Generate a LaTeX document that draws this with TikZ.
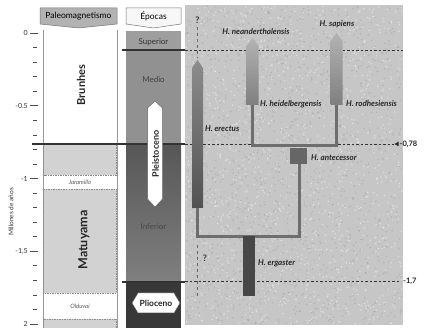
\documentclass[tikz,border=0pt]{standalone}
\usepackage{fontspec}
\setmainfont{Lato}
\usetikzlibrary{shapes.geometric,arrows.meta}
\definecolor{panel}{HTML}{C6C6C6}
\definecolor{magfill}{HTML}{D2D2D2}
\definecolor{conn}{HTML}{6E6E6E}
\tikzset{
  lbl/.style={font=\bfseries\itshape\fontsize{8}{9}\selectfont, text=black!85, inner sep=0pt},
  tick/.style={draw=black!70, line width=0.6pt},
  ticklbl/.style={font=\fontsize{7}{8}\selectfont, text=black!80, anchor=east, inner sep=0pt},
  boundary/.style={draw=black!80, line width=1.2pt},
  dashline/.style={draw=black!80, line width=0.8pt, dash pattern=on 2.5pt off 2pt},
  qline/.style={draw=black!60, line width=0.7pt, dash pattern=on 3pt off 3pt},
  connector/.style={draw=conn, line width=3pt},
  header/.style={font=\fontsize{8.5}{9}\selectfont, inner sep=0pt},
  epoca/.style={font=\fontsize{8}{9}\selectfont, inner sep=0pt},
  mag/.style={fill=magfill, draw=black!45, dash pattern=on 1.5pt off 1pt, line width=0.5pt},
}
\begin{document}
\begin{tikzpicture}[x=1pt,y=-1pt]
\useasboundingbox (0,0) rectangle (436,328);
\fill[white] (0,0) rectangle (436,328);

% right panel with speckle texture
\fill[panel] (185,5) rectangle (403,325);
\pgfmathsetseed{7}
\begin{scope}
\clip (185,5) rectangle (403,325);
\foreach \i in {1,...,1400}{
  \pgfmathsetmacro{\px}{186+rnd*216}
  \pgfmathsetmacro{\py}{6+rnd*318}
  \pgfmathsetmacro{\qx}{186+rnd*216}
  \pgfmathsetmacro{\qy}{6+rnd*318}
  \fill[black!40, opacity=0.45] (\px,\py) circle (0.8);
  \fill[white, opacity=0.45] (\qx,\qy) circle (0.8);
}
\end{scope}

% headers
\draw[draw=black!55, fill=black!30, line width=0.5pt]
  (40,8) -- (117,8) -- (117,24) -- (78.5,28) -- (40,24) -- cycle;
\node[header] (hpal) at (78.5,16.5) {Paleomagnetismo};
\draw[draw=black!55, fill=black!3, line width=0.5pt]
  (126,8) -- (181,8) -- (181,24) -- (153.5,28) -- (126,24) -- cycle;
\node[header] (hepo) at (153.5,16.5) {Épocas};

% paleomagnetism column
\draw[black!40, line width=0.6pt] (43,30) -- (43,328);
\draw[black!40, line width=0.6pt] (117,30) -- (117,328);
\path[mag] (43.5,144) rectangle (116.5,175);
\path[mag] (43.5,189) rectangle (116.5,293);
\path[mag] (43.5,319) rectangle (116.5,332);
\node[font=\bfseries\fontsize{11}{12}\selectfont, rotate=90, text=black!85] (brunhes) at (81,85) {Brunhes};
\node[font=\bfseries\fontsize{12.5}{13}\selectfont, rotate=90, text=black!85] (matuyama) at (84,240) {Matuyama};
\node[font=\itshape\fontsize{6}{7}\selectfont, text=black!65] (jaramillo) at (80,182) {Jaramillo};
\node[font=\itshape\fontsize{6}{7}\selectfont, text=black!65] (olduvai) at (80,306) {Olduvai};

% epocas column
\fill[black!38] (126,31) rectangle (181,50);
\fill[black!43] (126,50) rectangle (181,144);
\shade[top color=black!66, bottom color=black!50] (126,144) rectangle (181,282);
\fill[black!78] (126,282) rectangle (181,328);
\node[epoca, text=black!80] (sup) at (153.5,42) {Superior};
\node[epoca, text=black!75] (medio) at (153.5,80) {Medio};
\node[epoca, text=black!72] (inferior) at (153.5,227) {Inferior};

% boundary lines
\draw[boundary] (122,50) -- (185,50);
\draw[boundary] (32,144) -- (185,144);
\draw[boundary] (122,282) -- (185,282);

% epoch labels on top
\draw[fill=white, draw=black!60, line width=0.5pt]
  (155,101) -- (162.5,108) -- (162.5,199) -- (155,207) -- (147.5,199) -- (147.5,108) -- cycle;
\node[font=\bfseries\fontsize{9}{10}\selectfont, rotate=90, text=black!85] (pleis) at (155.5,154) {Pleistoceno};
\draw[fill=white, draw=black!60, line width=0.5pt]
  (132,303) -- (138,293) -- (174,293) -- (180,303) -- (174,313) -- (138,313) -- cycle;
\node[font=\bfseries\fontsize{8.5}{9}\selectfont, text=black!85] (plio) at (156,303) {Plioceno};

% axis
\foreach \k in {0,...,20}{
  \pgfmathsetmacro{\yy}{33+14.55*\k}
  \draw[tick] (33,\yy) -- (37,\yy);
}
\foreach \k/\t in {0/0, 5/{-0.5}, 10/{-1}, 15/{-1,5}, 20/2}{
  \pgfmathsetmacro{\yy}{33+14.55*\k}
  \draw[tick] (30,\yy) -- (38,\yy);
  \node[ticklbl] at (28,\yy) {\t};
}
\node[font=\fontsize{6.5}{7}\selectfont, rotate=90, text=black!80] (axlbl) at (11,212) {Millones de años};

% dashed time lines in the tree panel
\coordinate (d1a) at (185,50); \coordinate (d1b) at (403,50);
\draw[dashline] (d1a) -- (d1b);
\coordinate (d2a) at (185,144);
\node[font=\bfseries\fontsize{7.5}{8}\selectfont, anchor=west, inner sep=0pt, text=black!85] (m078) at (399.5,144) {-0,78};
\draw[dashline] (d2a) -- (394,144);
\fill[black!85] (394.5,144) -- (398.5,141.8) -- (398.5,146.2) -- cycle;
\node[font=\bfseries\fontsize{7.5}{8}\selectfont, anchor=west, inner sep=0pt, text=black!85] (m17) at (403,281) {-1,7};
\coordinate (d3a) at (185,281);
\draw[dashline] (d3a) -- (401,281);

% connectors
\coordinate (eb) at (197.5,207);
\coordinate (j1) at (197.5,237);
\coordinate (j2) at (299,237);
\coordinate (ab) at (299,163);
\draw[connector, line join=miter] (eb) -- (j1) -- (j2) -- (ab);
\draw[connector] (252.5,146) -- (336.5,146);
\draw[connector] (252.5,147.5) -- (252.5,104);
\draw[connector] (336.5,147.5) -- (336.5,104);

% H. erectus
\shade[top color=black!45, bottom color=black!68]
  (197.5,60) -- (203,68) -- (203,208) -- (192,208) -- (192,68) -- cycle;
\node[lbl, anchor=west] (erectus) at (205,129) {H. erectus};
\node[font=\bfseries\fontsize{9}{10}\selectfont, text=black!80, inner sep=0pt] (q1) at (197.5,20) {?};
\draw[qline] (197.5,27) -- (197.5,58);
\draw[qline] (197.5,245) -- (197.5,296);
\node[font=\bfseries\fontsize{9}{10}\selectfont, text=black!80, inner sep=0pt] (q2) at (205,258) {?};

% H. antecessor
\node[draw=none, fill=black!60, minimum width=17pt, minimum height=16pt, inner sep=0pt] (ante) at (298.5,156) {};
\node[lbl, anchor=west] (antelbl) at (311,158) {H. antecessor};

% H. ergaster
\fill[black!72] (243,236) rectangle (255,296);
\node[lbl, anchor=west] (ergaster) at (258,263) {H. ergaster};

% neanderthalensis
\shade[top color=black!30, bottom color=black!50]
  (252.5,38) -- (258.5,46) -- (258.5,105) -- (246.5,105) -- (246.5,46) -- cycle;
\node[lbl] (nean) at (256,32) {H. neanderthalensis};
\node[lbl, anchor=west] (heid) at (260,104) {H. heidelbergensis};

% sapiens
\shade[top color=black!30, bottom color=black!50]
  (336.5,33) -- (342.5,41) -- (342.5,105) -- (330.5,105) -- (330.5,41) -- cycle;
\node[lbl] (sap) at (337,24) {H. sapiens};
\node[lbl, anchor=west] (rodh) at (346,104) {H. rodhesiensis};
\end{tikzpicture}
\end{document}
